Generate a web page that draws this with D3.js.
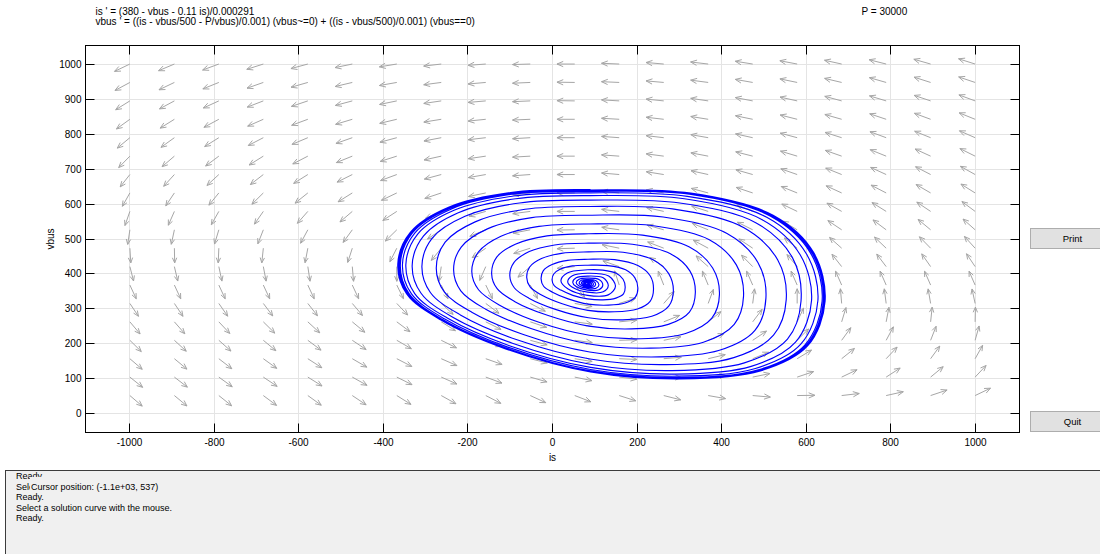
<!DOCTYPE html>
<html>
<head>
<meta charset="utf-8">
<script src="https://cdn.jsdelivr.net/npm/d3@7"></script>
<style>
  html, body { margin: 0; padding: 0; background: #ffffff; }
  svg { display: block; font-family: "Liberation Sans", Arial, Helvetica, sans-serif; }
</style>
</head>
<body>
<svg id="fig" width="1100" height="554"></svg>
<script>
// ---- system shown in the header ----
const equationLines = [
  "is ' = (380 - vbus - 0.11 is)/0.000291",
  "vbus ' = ((is - vbus/500 - P/vbus)/0.001) (vbus~=0) + ((is - vbus/500)/0.001) (vbus==0)"
];
const parameterLabel = "P = 30000";

// ---- axes ----
const isWindow = [-1105, 1105];
const vbusWindow = [-53, 1053];
const isTicks = [-1000, -800, -600, -400, -200, 0, 200, 400, 600, 800, 1000];
const vbusTicks = [0, 100, 200, 300, 400, 500, 600, 700, 800, 900, 1000];
const isLabel = "is";
const vbusLabel = "vbus";

// ---- direction field: arrow tails on this grid ----
const fieldIs = [-1000, -894.7, -789.5, -684.2, -578.9, -473.7, -368.4, -263.2, -157.9, -52.6,
                 52.6, 157.9, 263.2, 368.4, 473.7, 578.9, 684.2, 789.5, 894.7, 1000];
const fieldVbus = [52.6, 105.3, 157.9, 210.5, 263.2, 315.8, 368.4, 421.1, 473.7, 526.3,
                   578.9, 631.6, 684.2, 736.8, 789.5, 842.1, 894.7, 947.4, 1000];
// arrow heading in the (is, vbus) plane, degrees; one row per fieldVbus value
const fieldAngle = [
  [-46, -45, -44, -42, -41, -39, -37, -34, -32, -29, -25, -21, -17, -12, -6, 1, 8, 15, 22, 30],
  [-44, -43, -41, -39, -37, -34, -31, -28, -24, -19, -14, -8, -2, 6, 14, 22, 30, 38, 45, 52],
  [-46, -45, -43, -41, -38, -35, -32, -28, -23, -17, -11, -3, 6, 16, 26, 36, 44, 52, 59, 65],
  [-50, -48, -47, -45, -42, -39, -35, -31, -25, -18, -9, 2, 14, 27, 39, 50, 59, 66, 72, 77],
  [-55, -54, -52, -50, -48, -45, -42, -37, -31, -22, -9, 7, 26, 44, 58, 69, 76, 81, 85, 89],
  [-61, -61, -60, -58, -57, -55, -52, -48, -42, -32, -12, 21, 54, 73, 84, 90, 94, 96, 98, 100],
  [-69, -69, -69, -69, -69, -69, -68, -68, -68, -66, -56, 105, 108, 109, 110, 110, 110, 110, 110, 110],
  [-78, -79, -80, -81, -83, -86, -90, -97, -110, -134, -173, 157, 142, 133, 129, 125, 123, 122, 120, 119],
  [-87, -89, -92, -95, -99, -105, -113, -124, -140, -159, -178, 166, 155, 147, 141, 136, 133, 131, 129, 127],
  [-97, -100, -104, -108, -114, -121, -130, -141, -154, -167, -179, 170, 161, 154, 149, 144, 141, 138, 135, 133],
  [-106, -110, -115, -120, -126, -134, -142, -152, -161, -171, 180, 172, 165, 159, 154, 150, 146, 143, 141, 138],
  [-115, -119, -124, -130, -136, -143, -150, -158, -166, -173, 180, 173, 168, 162, 158, 154, 151, 148, 145, 143],
  [-123, -127, -132, -137, -143, -149, -156, -162, -168, -175, 180, 174, 169, 165, 161, 157, 154, 151, 148, 146],
  [-129, -134, -138, -143, -148, -154, -159, -165, -170, -176, 180, 175, 171, 167, 163, 160, 157, 154, 151, 149],
  [-135, -139, -143, -148, -153, -157, -162, -167, -172, -176, 180, 175, 172, 168, 165, 162, 159, 156, 154, 152],
  [-139, -143, -147, -152, -156, -160, -164, -169, -173, -177, 180, 176, 172, 169, 166, 163, 161, 158, 156, 154],
  [-143, -147, -151, -155, -158, -162, -166, -170, -174, -177, 179, 176, 173, 170, 167, 165, 162, 160, 158, 156],
  [-147, -150, -154, -157, -161, -164, -168, -171, -174, -177, 179, 177, 174, 171, 168, 166, 164, 161, 159, 158],
  [-150, -153, -156, -159, -162, -166, -169, -172, -175, -178, 180, 177, 174, 172, 169, 167, 165, 163, 161, 159]
];
const arrowLength = 42; // in is/vbus units

// ---- the computed solution curve, [is, vbus] ----
const solutionCurve = [
  [90,641],[-99,633],[-246,591],[-336,520],[-366,429],[-345,343],[-265,269],[-111,186],[90,120],[303,100],[492,123],[604,195],[645,322],[618,461],[522,568],[327,631],
  [90,640],[-98,632],[-245,590],[-334,519],[-364,429],[-343,343],[-264,269],[-110,187],[90,121],[302,101],[490,124],[602,196],[643,322],[616,460],[520,567],[326,630],
  [90,639],[-98,631],[-243,589],[-333,519],[-362,429],[-342,343],[-262,270],[-109,187],[90,122],[301,102],[489,125],[600,196],[641,322],[614,460],[518,566],[325,629],
  [90,638],[-97,630],[-242,588],[-331,518],[-360,428],[-339,343],[-260,270],[-108,188],[90,123],[300,104],[487,126],[597,197],[638,323],[611,459],[516,565],[324,628],
  [90,636],[-95,628],[-239,586],[-326,517],[-355,428],[-334,344],[-256,272],[-106,191],[90,127],[297,108],[480,130],[588,200],[628,324],[601,457],[507,562],[319,622],
  [90,632],[-92,623],[-233,582],[-319,514],[-347,427],[-326,344],[-249,274],[-102,195],[90,133],[292,114],[470,136],[575,205],[613,325],[586,455],[495,556],[312,615],
  [89,624],[-87,615],[-223,575],[-305,509],[-332,425],[-311,345],[-237,277],[-95,202],[89,142],[283,124],[454,146],[556,214],[588,322],[568,446],[482,546],[301,603],
  [89,611],[-78,603],[-207,565],[-285,502],[-309,422],[-289,347],[-218,283],[-84,212],[89,157],[270,141],[429,161],[523,225],[553,326],[533,440],[452,533],[284,586],
  [89,593],[-65,585],[-183,549],[-254,491],[-275,417],[-256,349],[-191,291],[-69,227],[88,177],[252,163],[395,182],[479,239],[505,331],[486,433],[413,516],[262,563],
  [88,568],[-49,561],[-154,529],[-216,477],[-234,412],[-217,352],[-159,300],[-51,244],[87,200],[232,188],[357,205],[430,256],[452,336],[435,426],[371,498],[239,538],
  [87,543],[-32,536],[-122,508],[-175,463],[-191,407],[-175,355],[-125,311],[-32,262],[87,225],[209,215],[315,230],[377,274],[395,341],[379,417],[324,477],[213,511],
  [86,515],[-13,509],[-88,485],[-132,448],[-144,401],[-131,358],[-89,321],[-12,282],[86,251],[187,243],[274,256],[324,291],[338,347],[325,409],[279,458],[189,485],
  [85,488],[5,483],[-55,464],[-91,433],[-101,395],[-90,360],[-56,331],[7,299],[85,275],[166,269],[235,279],[275,308],[286,352],[275,401],[239,440],[167,462],
  [85,463],[21,459],[-26,444],[-54,420],[-61,390],[-53,363],[-26,340],[23,315],[84,296],[147,292],[201,300],[231,322],[239,357],[231,395],[202,424],[147,441],
  [84,442],[36,439],[-1,427],[-22,409],[-27,386],[-21,365],[0,348],[37,329],[84,314],[132,311],[172,317],[196,334],[202,360],[195,389],[173,412],[131,424],
  [84,425],[47,423],[19,414],[3,400],[-1,383],[4,367],[20,354],[48,339],[83,329],[119,326],[150,331],[168,343],[172,363],[167,385],[151,402],[119,411],
  [83,412],[35,403],[20,380],[36,358],[83,339],[133,341],[149,365],[133,394],
  [83,402],[47,395],[36,378],[47,362],[83,348],[120,349],[132,367],[120,389],
  [83,394],[56,389],[48,376],[56,364],[83,354],[110,355],[119,368],[110,384],
  [82,388],[63,385],[56,375],[63,366],[82,359],[103,359],[110,369],[103,381],
  [82,384],[68,382],[63,374],[68,368],[82,362],[97,363],[102,370],[97,379],
  [82,381],[72,379],[68,374],[72,369],[82,365],[93,365],[97,371],[93,377],
  [82,378],[74,377],[72,373],[75,370],[82,367],[90,367],[93,371],[90,375],
  [82,377],[77,376],[75,373],[77,370],[82,368],[88,369],[89,371],[88,374],
  [82,375],[78,374],[77,373],[79,371],[82,370],[85,370],[86,372],[85,373],
  [82,372]
];

// ---- window controls ----
const buttonLabels = ["Print", "Quit"];
const messageLines = [
  "Ready.",
  "Select a solution curve with the mouse.",
  "Ready.",
  "Select a solution curve with the mouse.",
  "Ready."
];
const cursorText = "Cursor position: (-1.1e+03, 537)";

// ================= drawing =================
const svg = d3.select("#fig");
const box = { left: 85.5, right: 1019.5, top: 45.5, bottom: 432.5 };

const x = d3.scaleLinear().domain(isWindow).range([box.left, box.right]);
const y = d3.scaleLinear().domain(vbusWindow).range([box.bottom, box.top]);
// pixel-snapped copies for crisp ticks and grid lines
const xr = x.copy().range([box.left - 0.5, box.right - 0.5]).interpolate(d3.interpolateRound);
const yr = y.copy().range([box.bottom - 0.5, box.top - 0.5]).interpolate(d3.interpolateRound);

svg.append("rect").attr("width", 1100).attr("height", 554).attr("fill", "#ffffff");

const defs = svg.append("defs");
defs.append("clipPath").attr("id", "plotClip")
  .append("rect").attr("x", box.left).attr("y", box.top)
  .attr("width", box.right - box.left).attr("height", box.bottom - box.top);
defs.append("clipPath").attr("id", "panelClip")
  .append("rect").attr("x", 6).attr("y", 471).attr("width", 1094).attr("height", 83);
// the part of the second log line left uncovered by the cursor readout
defs.append("clipPath").attr("id", "coveredLineClip")
  .append("rect").attr("x", 6).attr("y", 471).attr("width", 24).attr("height", 30);

// header
svg.append("g").selectAll("text").data(equationLines).join("text")
  .attr("x", 95.5).attr("y", (d, i) => 14.5 + i * 10.8)
  .attr("font-size", 10).attr("fill", "#000").text(d => d);
svg.append("text").attr("x", 861.5).attr("y", 14.5)
  .attr("font-size", 10).attr("fill", "#000").text(parameterLabel);

// grid
const grid = svg.append("g").attr("stroke", "#e4e4e4").attr("stroke-width", 1);
grid.selectAll("line.gx").data(isTicks).join("line")
  .attr("x1", d => xr(d) + 0.5).attr("x2", d => xr(d) + 0.5)
  .attr("y1", box.top).attr("y2", box.bottom);
grid.selectAll("line.gy").data(vbusTicks).join("line")
  .attr("y1", d => yr(d) + 0.5).attr("y2", d => yr(d) + 0.5)
  .attr("x1", box.left).attr("x2", box.right);

// direction field
const field = svg.append("g").attr("clip-path", "url(#plotClip)")
  .attr("fill", "none").attr("stroke", "#a6a6a6").attr("stroke-width", 1);
const arrows = [];
fieldVbus.forEach((v, r) => fieldIs.forEach((i, c) => {
  arrows.push({ is: i, vbus: v, angle: fieldAngle[r][c] });
}));
field.selectAll("path").data(arrows).join("path")
  .attr("d", d => {
    const a = d.angle * Math.PI / 180;
    const x0 = x(d.is), y0 = y(d.vbus);
    const x1 = x(d.is + arrowLength * Math.cos(a));
    const y1 = y(d.vbus + arrowLength * Math.sin(a));
    const dir = Math.atan2(y1 - y0, x1 - x0);
    const len = Math.hypot(x1 - x0, y1 - y0);
    const h = Math.max(5, 0.38 * len), spread = 0.40;
    const hx1 = x1 - h * Math.cos(dir - spread), hy1 = y1 - h * Math.sin(dir - spread);
    const hx2 = x1 - h * Math.cos(dir + spread), hy2 = y1 - h * Math.sin(dir + spread);
    return `M${x0},${y0}L${x1},${y1}M${hx1},${hy1}L${x1},${y1}L${hx2},${hy2}`;
  });

// solution curve
svg.append("g").attr("clip-path", "url(#plotClip)").append("path")
  .datum(solutionCurve)
  .attr("fill", "none").attr("stroke", "#0000ff").attr("stroke-width", 1.15)
  .attr("stroke-linejoin", "round")
  .attr("d", d3.line().x(d => x(d[0])).y(d => y(d[1])).curve(d3.curveCatmullRom.alpha(0.5)));

// axes: ticks point inward on all four sides, labels bottom and left
const fmt = d => String(d);
const styleAxis = g => {
  g.select(".domain").remove();
  g.selectAll(".tick line").attr("stroke", "#000");
  g.selectAll("text").attr("font-size", 10).attr("fill", "#000")
    .attr("font-family", "'Liberation Sans', Arial, Helvetica, sans-serif");
};
svg.append("g").attr("transform", `translate(0,${box.bottom})`)
  .call(d3.axisBottom(xr).tickValues(isTicks).tickFormat(fmt).tickSizeInner(-9).tickSizeOuter(0).tickPadding(6))
  .call(styleAxis);
svg.append("g").attr("transform", `translate(0,${box.top})`)
  .call(d3.axisTop(xr).tickValues(isTicks).tickFormat("").tickSizeInner(-9).tickSizeOuter(0))
  .call(styleAxis);
svg.append("g").attr("transform", `translate(${box.left},0)`)
  .call(d3.axisLeft(yr).tickValues(vbusTicks).tickFormat(fmt).tickSizeInner(-9).tickSizeOuter(0).tickPadding(4))
  .call(styleAxis);
svg.append("g").attr("transform", `translate(${box.right},0)`)
  .call(d3.axisRight(yr).tickValues(vbusTicks).tickFormat("").tickSizeInner(-9).tickSizeOuter(0))
  .call(styleAxis);

svg.append("rect").attr("x", box.left).attr("y", box.top)
  .attr("width", box.right - box.left).attr("height", box.bottom - box.top)
  .attr("fill", "none").attr("stroke", "#000").attr("stroke-width", 1);

svg.append("text").attr("x", (box.left + box.right) / 2).attr("y", 461)
  .attr("text-anchor", "middle").attr("font-size", 10).text(isLabel);
svg.append("text").attr("transform", `translate(54,${(box.top + box.bottom) / 2}) rotate(-90)`)
  .attr("text-anchor", "middle").attr("font-size", 10).text(vbusLabel);

// buttons
const buttonY = [228.5, 411.5];
const btn = svg.append("g").selectAll("g").data(buttonLabels).join("g")
  .attr("transform", (d, i) => `translate(1030.5,${buttonY[i]})`);
btn.append("rect").attr("width", 72).attr("height", 20)
  .attr("fill", "#e1e1e1").attr("stroke", "#adadad").attr("stroke-width", 1);
btn.append("text").attr("x", 42).attr("y", 13.5).attr("text-anchor", "middle")
  .attr("font-size", 9.5).attr("fill", "#000").text(d => d);

// message panel: log lines, with the cursor readout box laid over the second line
svg.append("rect").attr("x", 5.5).attr("y", 470.5).attr("width", 1100).attr("height", 90)
  .attr("fill", "#f0f0f0").attr("stroke", "#3c3c3c").attr("stroke-width", 1);
const log = svg.append("g").attr("clip-path", "url(#panelClip)");
log.selectAll("text").data(messageLines).join("text")
  .attr("x", 16).attr("y", (d, i) => 479 + i * 10.5)
  .attr("clip-path", (d, i) => i === 1 ? "url(#coveredLineClip)" : null)
  .attr("font-size", 9).attr("fill", "#000").text(d => d);
log.append("rect").attr("x", 30).attr("y", 477).attr("width", 240).attr("height", 15)
  .attr("fill", "#f0f0f0");
log.append("text").attr("x", 31).attr("y", 489.5)
  .attr("font-size", 9).attr("fill", "#000").text(cursorText);
</script>
</body>
</html>
